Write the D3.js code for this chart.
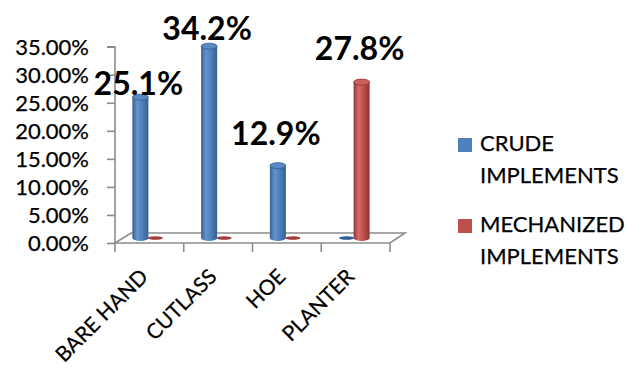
<!DOCTYPE html>
<html>
<head>
<meta charset="utf-8">
<script src="https://cdn.jsdelivr.net/npm/d3@7"></script>
<style>
  html, body { margin: 0; padding: 0; background: #fff; }
  svg { display: block; font-family: Lato, "Noto Sans", sans-serif; }
  .reg { stroke: #000; stroke-width: 0.25px; }
</style>
</head>
<body>
<svg id="chart" width="627" height="370"></svg>
<script>
// Share of farmers using each implement type, by task
const categories = ["BARE HAND", "CUTLASS", "HOE", "PLANTER"];
const seriesNames = ["CRUDE IMPLEMENTS", "MECHANIZED IMPLEMENTS"];
const crude = [0.251, 0.342, 0.129, 0.0];
const mechanized = [0.0, 0.0, 0.0, 0.278];
const dataLabels = ["25.1%", "34.2%", "12.9%", "27.8%"];
const yTicks = [0, 0.05, 0.10, 0.15, 0.20, 0.25, 0.30, 0.35];

// layout
const svg = d3.select("#chart");
const floorLeft = 115, floorRight = 390, floorFront = 243;
const depthX = 16, depthY = -10;          // 3-D floor depth
const colours = ["#4F81BD", "#C0504D"];
const edgeDark = ["#33608f", "#8e3432"];
const mid = ["#6593cf", "#d66a66"];
const topFill = ["#5a89c4", "#cb605c"];
const zeroFill = ["#2f5c95", "#a23a38"];
const labelLift = [2, 6, 21, 22];         // label baseline above cylinder top

const x = d3.scaleBand().domain(categories).range([floorLeft, floorRight]);
const xInner = d3.scaleBand().domain(seriesNames).range([-16.5, 13.5]);
const y = d3.scaleLinear().domain([0, 0.35]).range([floorFront, 46.7]);

// gradients for cylinder bodies
const defs = svg.append("defs");
colours.forEach((c, i) => {
  const g = defs.append("linearGradient").attr("id", "cyl" + i)
    .attr("x1", "0%").attr("x2", "100%").attr("y1", "0%").attr("y2", "0%");
  g.append("stop").attr("offset", "0%").attr("stop-color", edgeDark[i]);
  g.append("stop").attr("offset", "30%").attr("stop-color", mid[i]);
  g.append("stop").attr("offset", "60%").attr("stop-color", c);
  g.append("stop").attr("offset", "100%").attr("stop-color", edgeDark[i]);
});

// floor
const axisCol = "#8c8c8c";
const floor = svg.append("g").attr("fill", "none").attr("stroke", axisCol).attr("stroke-width", 1.6);
floor.append("path").attr("d",
  `M${floorLeft},${floorFront} L${floorRight},${floorFront} L${floorRight + depthX - 1},${floorFront + depthY}` +
  ` L${floorLeft + depthX},${floorFront + depthY} Z`);

// category ticks
floor.selectAll("line.ct").data(d3.range(categories.length + 1)).join("line")
  .attr("x1", i => floorLeft + i * x.step()).attr("x2", i => floorLeft + i * x.step())
  .attr("y1", floorFront).attr("y2", floorFront + 9);

// value axis
const yAxis = d3.axisLeft(y).tickValues(yTicks).tickSize(8).tickPadding(18)
  .tickFormat(d => (d * 100).toFixed(2) + "%");
const yg = svg.append("g").attr("transform", `translate(${floorLeft},0)`).call(yAxis);
yg.select(".domain").attr("stroke", axisCol).attr("stroke-width", 1.6)
  .attr("d", `M-8,${y(0.35)} H0 V${floorFront}`);
yg.selectAll(".tick line").attr("stroke", axisCol).attr("stroke-width", 1.6);
yg.selectAll(".tick text").attr("font-size", 22).attr("fill", "#000").attr("class", "reg")
  .attr("font-family", "Lato, sans-serif").attr("dy", "0.36em");

// cylinders
const baseY = floorFront + depthY / 2;
const rx = 8, ry = 3;
const bars = [];
categories.forEach((cat, ci) => {
  [crude, mechanized].forEach((vals, si) => {
    bars.push({ cat, ci, si, v: vals[ci] });
  });
});
const cx = d => x(d.cat) + x.bandwidth() / 2 + xInner(seriesNames[d.si]) + xInner.bandwidth() / 2;
const topY = d => baseY - (floorFront - y(d.v));

const barG = svg.append("g");
bars.forEach(d => {
  const c = cx(d);
  if (d.v <= 0) {
    barG.append("ellipse").attr("cx", c).attr("cy", baseY).attr("rx", rx - 0.5).attr("ry", 1.8)
      .attr("fill", zeroFill[d.si]);
    return;
  }
  const t = topY(d);
  barG.append("path")
    .attr("d", `M${c - rx},${t} L${c - rx},${baseY} A${rx},${ry} 0 0 0 ${c + rx},${baseY} L${c + rx},${t} Z`)
    .attr("fill", `url(#cyl${d.si})`);
  barG.append("ellipse").attr("cx", c).attr("cy", t).attr("rx", rx).attr("ry", ry)
    .attr("fill", topFill[d.si]).attr("stroke", edgeDark[d.si]).attr("stroke-width", 0.8);
});

// value labels over the tallest cylinder of each category
const labelG = svg.append("g").attr("font-size", 32).attr("font-weight", "bold")
  .attr("text-anchor", "middle").attr("fill", "#000");
categories.forEach((cat, ci) => {
  const si = crude[ci] >= mechanized[ci] ? 0 : 1;
  const d = { cat, ci, si, v: si === 0 ? crude[ci] : mechanized[ci] };
  labelG.append("text")
    .attr("x", cx(d) - 2)
    .attr("y", topY(d) - labelLift[ci])
    .text(dataLabels[ci]);
});

// category labels
svg.append("g").selectAll("text").data(categories).join("text")
  .attr("class", "reg")
  .attr("transform", d => `translate(${x(d) + x.bandwidth() / 2},278) rotate(-45)`)
  .attr("text-anchor", "end").attr("font-size", 21).attr("fill", "#000")
  .text(d => d);

// legend
const legend = svg.append("g").attr("font-size", 22).attr("fill", "#000");
const legendRows = [["CRUDE", "IMPLEMENTS"], ["MECHANIZED", "IMPLEMENTS"]];
legendRows.forEach((lines, i) => {
  const top = 151 + i * 81;
  legend.append("rect").attr("x", 458).attr("y", top - 13).attr("width", 14).attr("height", 14)
    .attr("fill", colours[i]);
  lines.forEach((ln, j) => {
    legend.append("text").attr("class", "reg").attr("x", 480).attr("y", top + j * 31.5).text(ln);
  });
});
</script>
</body>
</html>
